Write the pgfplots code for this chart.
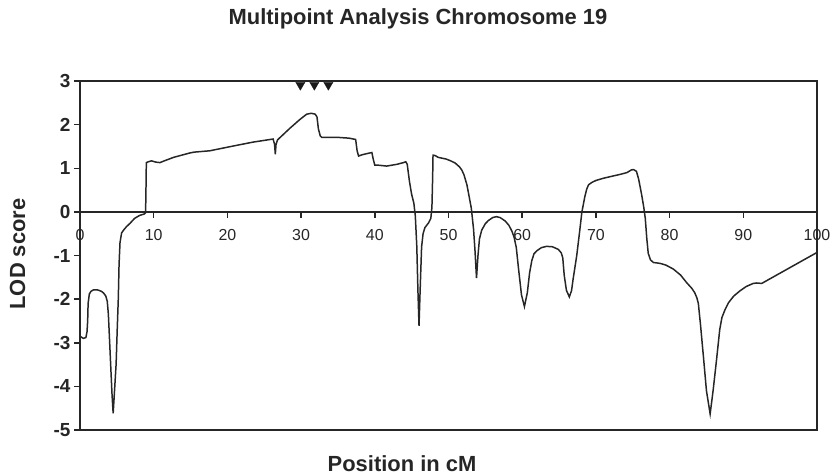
\documentclass[border=0pt]{standalone}
\usepackage{pgfplots}
\pgfplotsset{compat=1.18}
\usepackage{fontspec}
\setmainfont{Liberation Sans}
\begin{document}
\begin{tikzpicture}
\path[use as bounding box] (0,0) rectangle (835bp,-476bp);
\begin{axis}[
  at={(80bp,-430bp)}, anchor=south west, scale only axis,
  width=737bp, height=349bp,
  xmin=0, xmax=100, ymin=-5, ymax=3,
  xtick=\empty,
  ytick={-5,-4,...,3},
  ytick pos=left,
  tick align=outside,
  major tick length=6bp,
  axis line style={line width=1.6pt, black!85},
  every tick/.style={line width=1.5pt, black!85},
  yticklabel style={font=\bfseries\fontsize{19}{22}\selectfont, text=black!85},
  /pgf/number format/assume math mode=true,
  clip=false,
]
\addplot[line width=1.5pt, black!85] coordinates {
(0,-2.85) (0.45,-2.90) (0.8,-2.88) (0.95,-2.75) (1.04,-2.50) (1.1,-2.1) (1.27,-1.88) (1.5,-1.82) (1.8,-1.79) (2.4,-1.79) (2.9,-1.82) (3.2,-1.86) (3.5,-1.93) (3.7,-2.05) (3.85,-2.35) (4.0,-2.9) (4.16,-3.5) (4.35,-4.2) (4.5,-4.62) (4.65,-4.2) (4.9,-3.49) (5.05,-2.7) (5.2,-1.97) (5.3,-1.2) (5.43,-0.7) (5.65,-0.48) (6.0,-0.40) (6.3,-0.34) (6.8,-0.26) (7.4,-0.15) (8.1,-0.08) (8.7,-0.05) (8.9,-0.02) (8.95,0.5) (9.0,1.13) (9.3,1.15) (9.7,1.17) (10.3,1.14) (10.85,1.13) (11.6,1.18) (12.7,1.25) (14.9,1.35) (15.5,1.37) (17.6,1.40) (20.8,1.51) (23.5,1.60) (26.2,1.67) (26.4,1.55) (26.5,1.32) (26.6,1.55) (26.8,1.65) (28.5,1.92) (29.85,2.12) (30.76,2.24) (31.4,2.26) (31.9,2.24) (32.15,2.18) (32.35,1.9) (32.6,1.74) (32.8,1.71) (34.8,1.71) (36.5,1.69) (37.4,1.66) (37.6,1.4) (37.8,1.28) (38.3,1.31) (39.3,1.35) (39.6,1.36) (39.8,1.2) (40.0,1.07) (40.5,1.07) (41.6,1.05) (43.0,1.09) (43.9,1.13) (44.2,1.15) (44.4,1.09) (44.7,0.7) (45.0,0.40) (45.3,0.2) (45.5,-0.1) (45.7,-0.8) (45.85,-1.8) (46.0,-2.61) (46.15,-1.8) (46.35,-0.8) (46.55,-0.5) (46.8,-0.36) (47.3,-0.25) (47.6,-0.15) (47.75,0.1) (47.85,0.8) (47.9,1.30) (48.2,1.29) (48.6,1.25) (49.7,1.21) (50.3,1.17) (50.9,1.12) (51.5,1.03) (51.8,0.96) (52.1,0.85) (52.5,0.62) (52.8,0.35) (53.1,0.08) (53.4,-0.4) (53.6,-0.9) (53.8,-1.52) (54.0,-1.0) (54.2,-0.62) (54.5,-0.42) (55.0,-0.27) (55.4,-0.20) (56.0,-0.13) (56.5,-0.11) (57.0,-0.13) (57.7,-0.21) (58.2,-0.31) (58.6,-0.44) (58.9,-0.58) (59.2,-0.82) (59.5,-1.3) (59.9,-1.9) (60.3,-2.17) (60.7,-1.85) (61.0,-1.4) (61.3,-1.12) (61.6,-0.96) (62.0,-0.89) (62.6,-0.82) (63.3,-0.79) (64.1,-0.80) (64.9,-0.86) (65.3,-0.94) (65.5,-1.05) (65.7,-1.45) (66.0,-1.8) (66.4,-1.95) (66.7,-1.8) (66.9,-1.55) (67.4,-1.0) (67.8,-0.44) (68.1,0.0) (68.5,0.35) (68.75,0.52) (69.0,0.62) (69.4,0.67) (70.0,0.72) (71.0,0.77) (72.0,0.81) (73.3,0.86) (74.2,0.90) (74.8,0.96) (75.1,0.97) (75.5,0.93) (75.8,0.75) (76.2,0.40) (76.5,0.1) (76.7,-0.15) (76.9,-0.6) (77.1,-0.95) (77.4,-1.1) (77.8,-1.16) (78.7,-1.18) (79.5,-1.22) (80.5,-1.31) (81.5,-1.45) (82.3,-1.62) (83.0,-1.75) (83.4,-1.85) (83.7,-1.97) (83.9,-2.1) (84.2,-2.6) (84.6,-3.34) (85.0,-4.1) (85.5,-4.63) (85.9,-4.1) (86.4,-3.34) (86.8,-2.7) (87.1,-2.42) (87.5,-2.25) (88.0,-2.08) (88.7,-1.93) (89.55,-1.81) (90.4,-1.71) (91.35,-1.64) (91.8,-1.63) (92.5,-1.64) (100,-0.93)
};
\addplot[only marks, mark=triangle*, mark size=5.3pt, black!90, mark options={rotate=180}] coordinates {(29.9,2.91) (31.8,2.91) (33.7,2.91)};
\end{axis}
\begin{axis}[
  at={(80bp,-430bp)}, anchor=south west, scale only axis,
  width=737bp, height=349bp,
  xmin=0, xmax=100, ymin=-5, ymax=3,
  axis x line=middle, axis y line=none,
  hide obscured x ticks=false,
  x axis line style={-, line width=1.6pt, black!85},
  xtick={0,10,...,100},
  tick align=outside,
  major tick length=6bp,
  every tick/.style={line width=1.5pt, black!85},
  xticklabel style={font=\fontsize{16}{19}\selectfont, text=black!85, yshift=-8bp},
  /pgf/number format/assume math mode=true,
]
\end{axis}
\node[anchor=base, font=\bfseries\fontsize{22}{26}\selectfont, text=black!85] at (418bp,-24bp) {Multipoint Analysis Chromosome 19};
\node[anchor=base, font=\bfseries\fontsize{22}{26}\selectfont, text=black!85] at (402bp,-471.5bp) {Position in cM};
\node[anchor=base, rotate=90, font=\bfseries\fontsize{22}{26}\selectfont, text=black!85] at (25bp,-254bp) {LOD score};
\end{tikzpicture}
\end{document}
